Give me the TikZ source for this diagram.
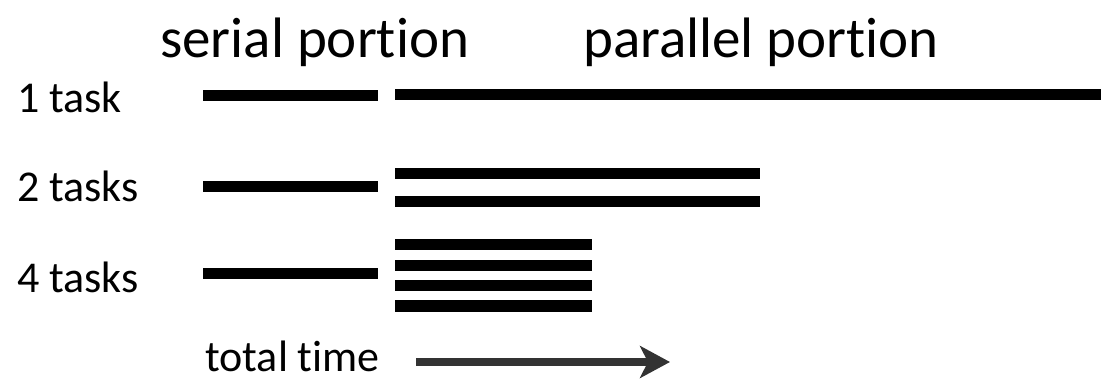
\documentclass[tikz,border=0pt]{standalone}
\usepackage{fontspec}
\setmainfont{Carlito}[Ligatures={NoCommon}]
\usetikzlibrary{arrows.meta}
\begin{document}
\begin{tikzpicture}[x=1pt,y=-1pt,
  heading/.style={anchor=base west,inner sep=0pt,font=\fontsize{57}{60}\selectfont},
  rowlabel/.style={anchor=base west,inner sep=0pt,font=\fontsize{44}{48}\selectfont},
  bar/.style={line width=11pt,black},
  timearrow/.style={line width=8pt,black!80,-{Stealth[length=30pt,width=32pt,inset=8pt]}}]
\useasboundingbox (0,0) rectangle (1101,382);

% column headings
\node[heading] (serial) at (160,58) {serial portion};
\node[heading] (parallel) at (583,58) {parallel portion};

% row labels
\node[rowlabel] (one) at (17,113) {1 task};
\node[rowlabel] (two) at (17,202) {2 tasks};
\node[rowlabel] (four) at (17,292) {4 tasks};

% one task
\draw[bar] (203,96) -- (378,96);
\draw[bar] (395,95) -- (1101,95);

% two tasks
\draw[bar] (203,187) -- (378,187);
\draw[bar] (395,174) -- (760,174);
\draw[bar] (395,202) -- (760,202);

% four tasks
\draw[bar] (203,274) -- (378,274);
\draw[bar] (395,245) -- (592,245);
\draw[bar] (395,266) -- (592,266);
\draw[bar] (395,286) -- (592,286);
\draw[bar] (395,306) -- (592,306);

% time axis
\node[rowlabel] (total) at (205,371) {total time};
\coordinate (tstart) at (416,362);
\coordinate (tend) at (670,362);
\draw[timearrow] (tstart) -- (tend);
\end{tikzpicture}
\end{document}
